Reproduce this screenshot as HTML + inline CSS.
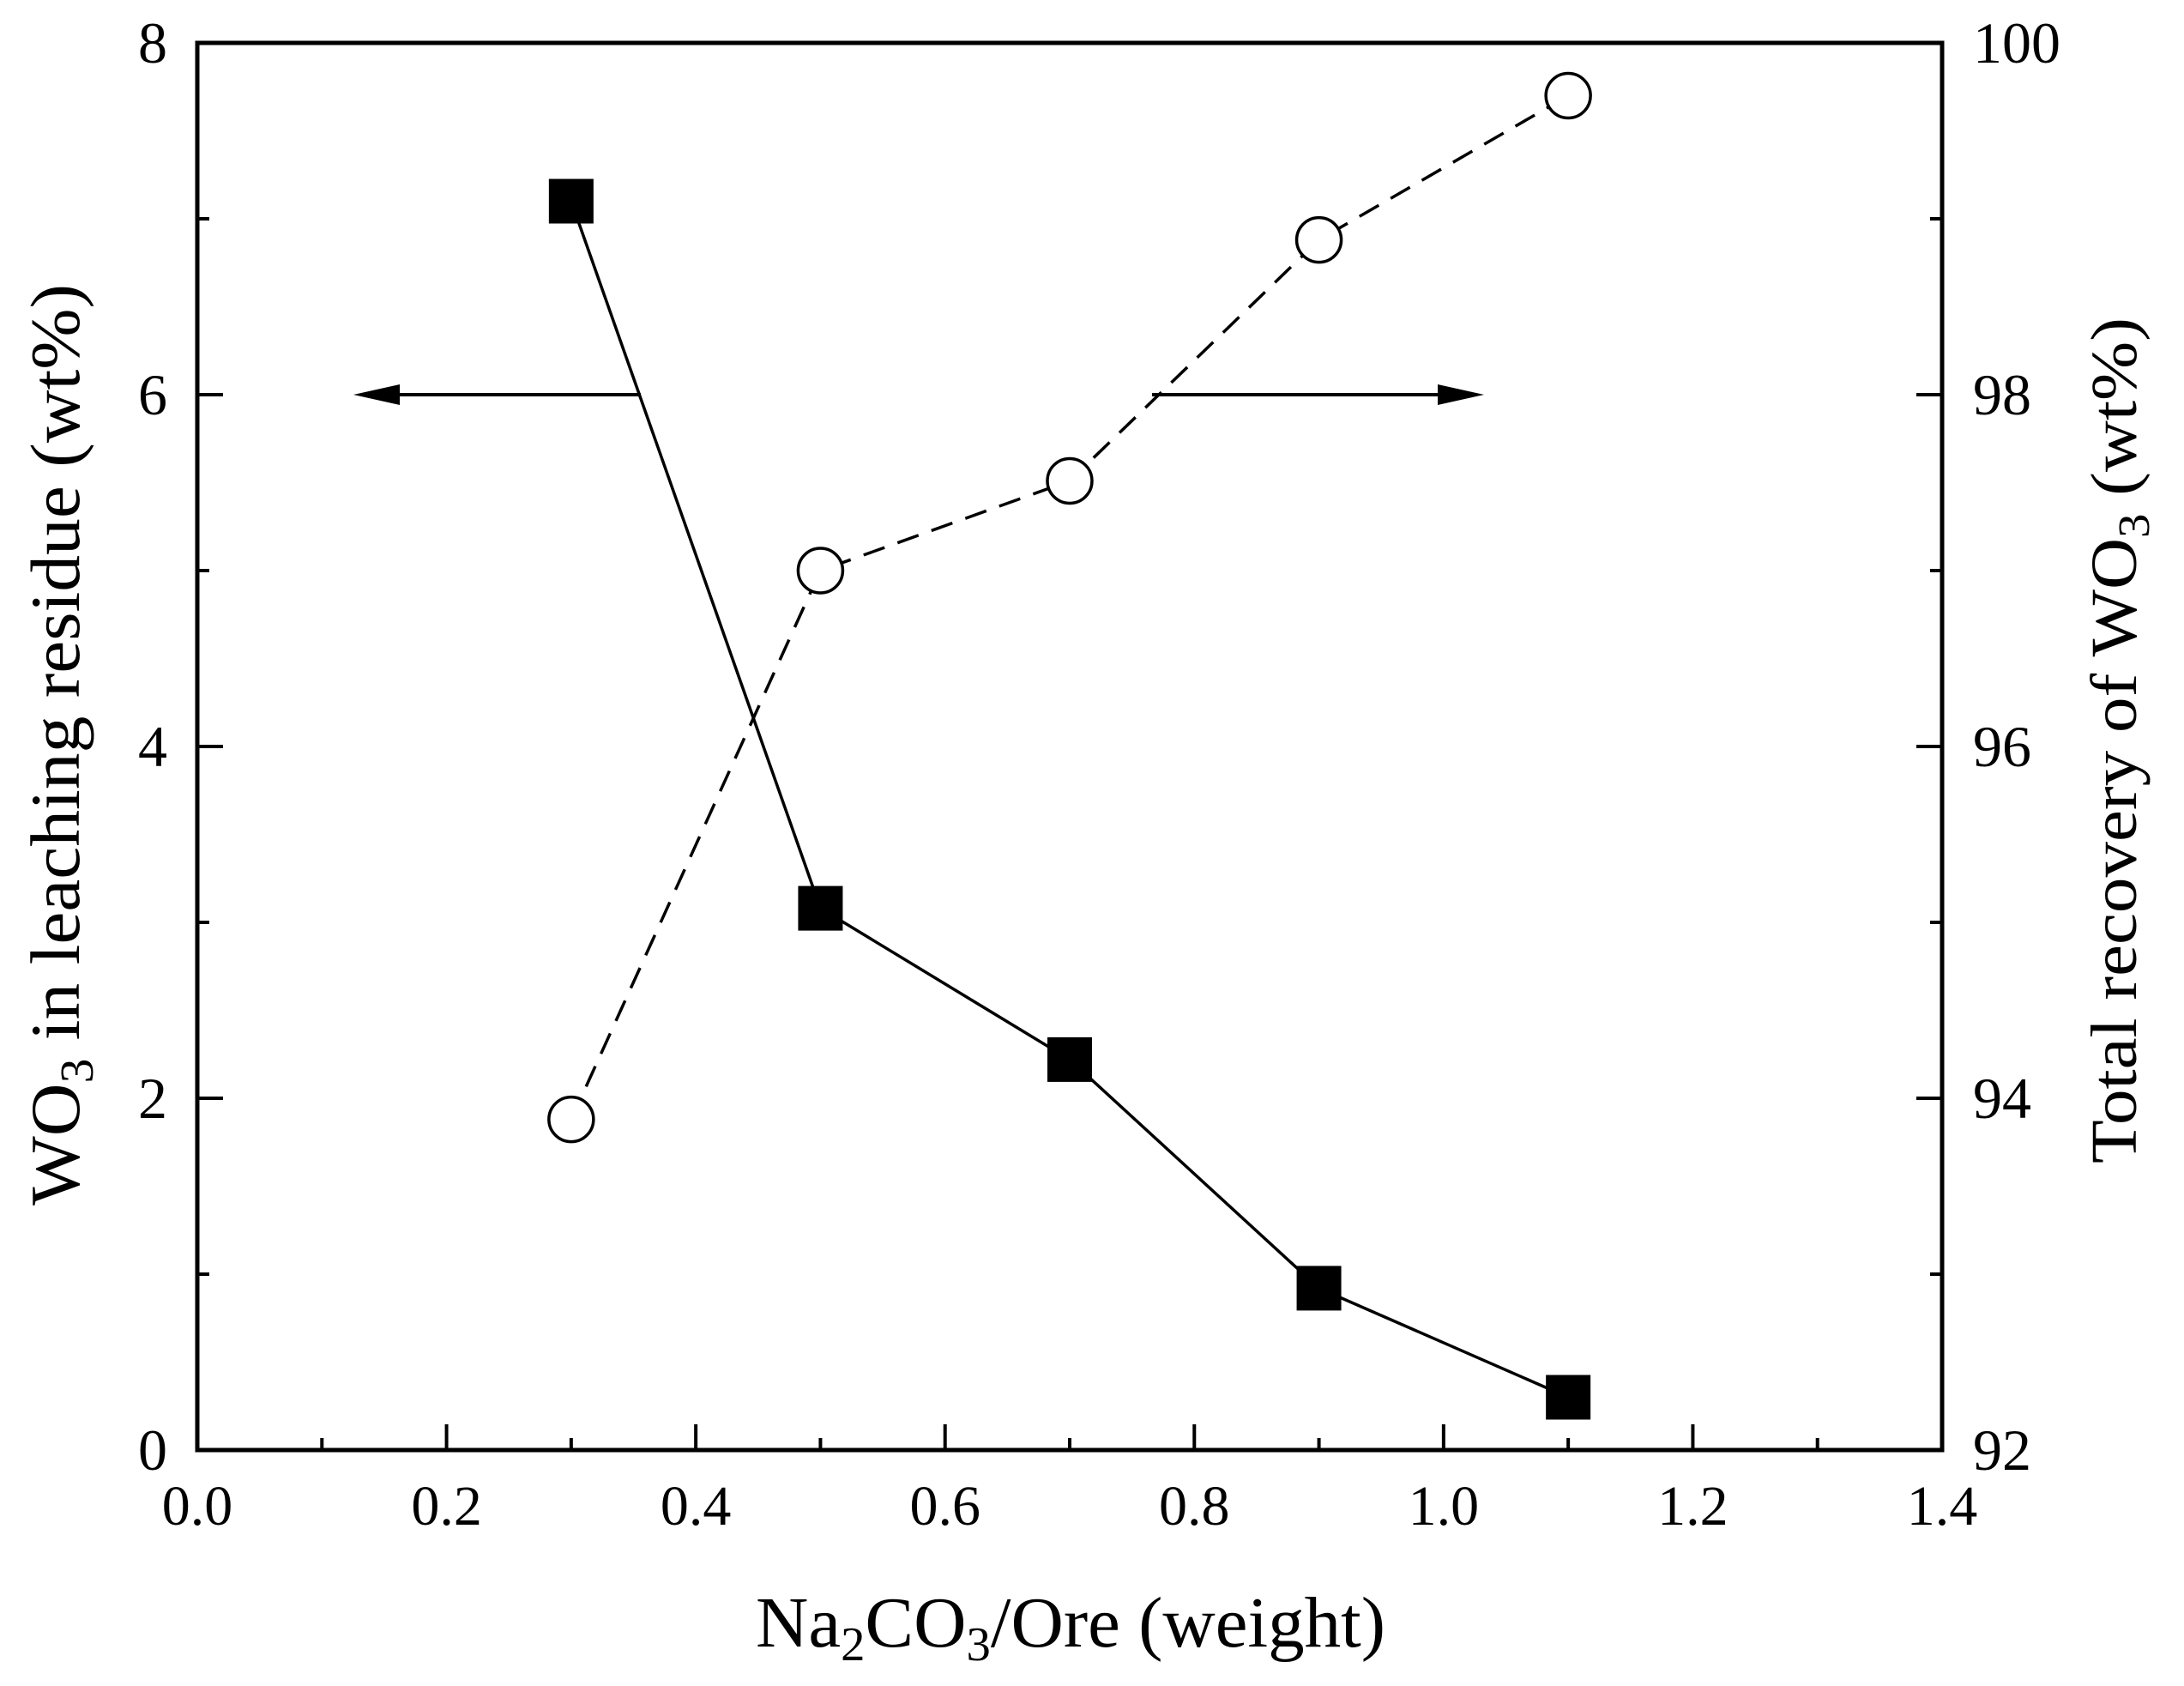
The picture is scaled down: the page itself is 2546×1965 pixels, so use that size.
<!DOCTYPE html>
<html><head><meta charset="utf-8"><style>
html,body{margin:0;padding:0;background:#fff;}
svg{display:block;font-family:"Liberation Serif",serif;}
</style></head><body>
<svg id="chart" width="2546" height="1965" viewBox="0 0 2546 1965" xmlns="http://www.w3.org/2000/svg">
<g id="axes"></g>
<g id="series"></g>
<text x="1248" y="1919" font-size="84" text-anchor="middle" textLength="734" lengthAdjust="spacingAndGlyphs">Na<tspan font-size="56" dy="16">2</tspan><tspan dy="-16">CO</tspan><tspan font-size="56" dy="16">3</tspan><tspan dy="-16">/Ore (weight)</tspan></text>
<text transform="translate(92,868) rotate(-90)" font-size="82" text-anchor="middle" textLength="1074" lengthAdjust="spacingAndGlyphs">WO<tspan font-size="55" dy="16">3</tspan><tspan dy="-16"> in leaching residue (wt%)</tspan></text>
<text transform="translate(2490,863) rotate(-90)" font-size="76" text-anchor="middle" textLength="986" lengthAdjust="spacingAndGlyphs">Total recovery of WO<tspan font-size="52" dy="15">3</tspan><tspan dy="-15"> (wt%)</tspan></text>
</svg>
<script>
const ratios = [0.3, 0.5, 0.7, 0.9, 1.1];
const residue = [7.10, 3.08, 2.22, 0.92, 0.30];
const recovery = [93.88, 97.0, 97.51, 98.88, 99.70];
const xTicks = ["0.0","0.2","0.4","0.6","0.8","1.0","1.2","1.4"];
const yLeftTicks = ["0","2","4","6","8"];
const yRightTicks = ["92","94","96","98","100"];

const NS = "http://www.w3.org/2000/svg";
const L = 230, R = 2264, T = 50, B = 1690;
const xS = v => L + (v - 0) / 1.4 * (R - L);
const yL = v => B - v / 8 * (B - T);
const yR = v => B - (v - 92) / 8 * (B - T);
const axes = document.getElementById('axes');
const series = document.getElementById('series');
function mk(tag, attrs, parent) {
  const e = document.createElementNS(NS, tag);
  for (const k in attrs) e.setAttribute(k, attrs[k]);
  parent.appendChild(e);
  return e;
}
const frame = mk('rect', {x: L, y: T, width: R - L, height: B - T, fill: 'none', stroke: '#000', 'stroke-width': 5}, axes);



// x ticks
for (let i = 0; i <= 14; i++) {
  const v = i * 0.1, x = xS(v), major = i % 2 === 0;
  const t = mk('line', {x1: x, x2: x, y1: B, y2: B - (major ? 30 : 14), stroke: '#000', 'stroke-width': 4}, axes);
  
  
}
xTicks.forEach(s => {
  const t = mk('text', {x: xS(parseFloat(s)), y: 1777, 'font-size': 66, 'text-anchor': 'middle'}, axes);
  t.textContent = s;
  
  
});
// y ticks both sides
for (let i = 0; i <= 8; i++) {
  const y = yL(i), major = i % 2 === 0;
  const len = major ? 30 : 14;
  const a = mk('line', {x1: L, x2: L + len, y1: y, y2: y, stroke: '#000', 'stroke-width': 4}, axes);
  
  
  const b = mk('line', {x1: R, x2: R - len, y1: y, y2: y, stroke: '#000', 'stroke-width': 4}, axes);
  
  
}
yLeftTicks.forEach(s => {
  const t = mk('text', {x: 195, y: yL(parseFloat(s)) + 23, 'font-size': 68, 'text-anchor': 'end'}, axes);
  t.textContent = s;
  
  
});
yRightTicks.forEach(s => {
  const t = mk('text', {x: 2300, y: yR(parseFloat(s)) + 23, 'font-size': 68, 'text-anchor': 'start'}, axes);
  t.textContent = s;
  
  
});

// residue series
const p1 = mk('polyline', {points: ratios.map((x, i) => xS(x) + ',' + yL(residue[i])).join(' '), fill: 'none', stroke: '#000', 'stroke-width': 3.5}, series);


// recovery series
const p2 = mk('polyline', {points: ratios.map((x, i) => xS(x) + ',' + yR(recovery[i])).join(' '), fill: 'none', stroke: '#000', 'stroke-width': 3.5, 'stroke-dasharray': '26 16'}, series);


ratios.forEach((x, i) => {
  const s = mk('rect', {x: xS(x) - 26, y: yL(residue[i]) - 26, width: 52, height: 52, fill: '#000'}, series);
  
  
  const c = mk('circle', {cx: xS(x), cy: yR(recovery[i]), r: 26, fill: '#fff', stroke: '#000', 'stroke-width': 3.5}, series);
  
  
});

// arrows at y=6 level
const ay = yL(6);
const a1 = mk('line', {x1: 747, x2: 440, y1: ay, y2: ay, stroke: '#000', 'stroke-width': 4}, series);


const h1 = mk('polygon', {points: `412,${ay} 466,${ay-12} 466,${ay+12}`, fill: '#000'}, series);


const a2 = mk('line', {x1: 1343, x2: 1700, y1: ay, y2: ay, stroke: '#000', 'stroke-width': 4}, series);


const h2 = mk('polygon', {points: `1730,${ay} 1676,${ay-12} 1676,${ay+12}`, fill: '#000'}, series);


</script>
</body></html>
